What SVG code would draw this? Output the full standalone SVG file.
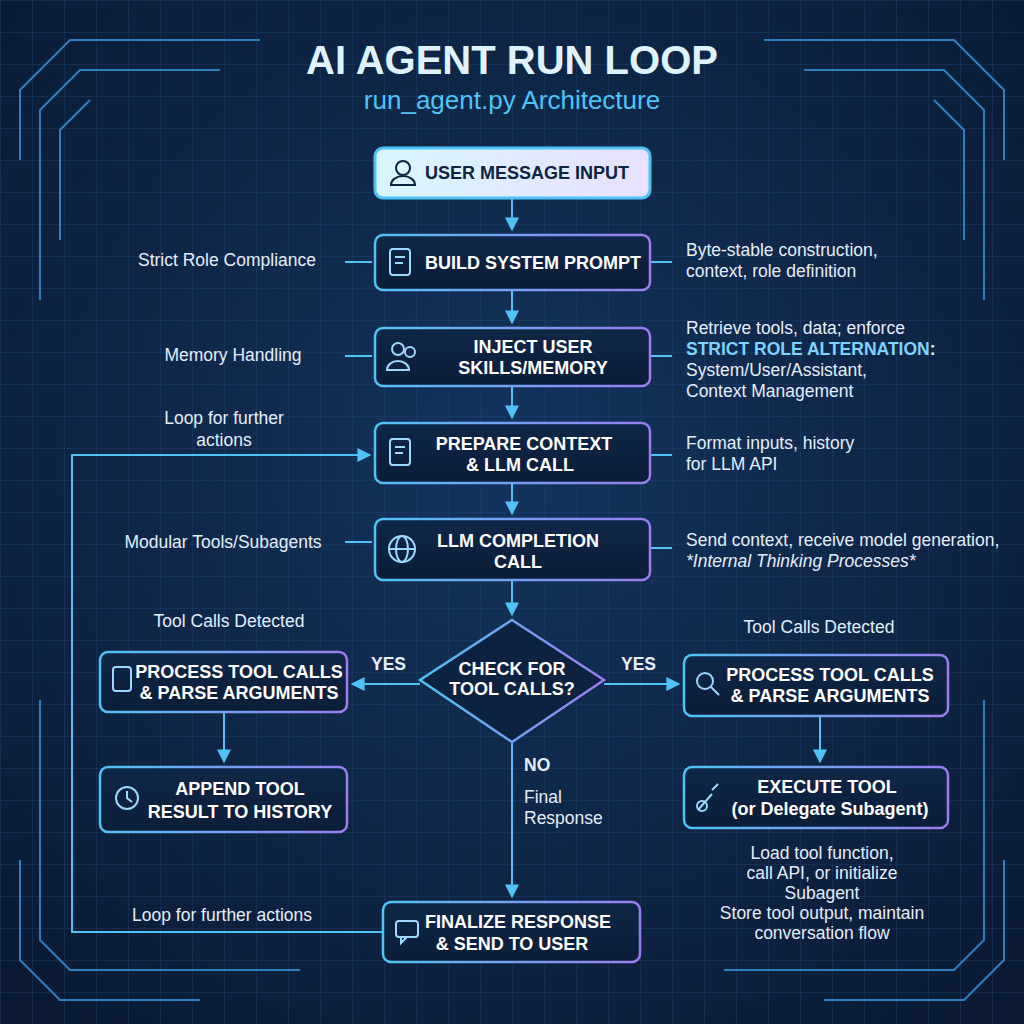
<svg xmlns="http://www.w3.org/2000/svg" width="1024" height="1024" viewBox="0 0 1024 1024">
<defs>
<pattern id="grid" width="32" height="32" patternUnits="userSpaceOnUse"><path d="M32 0H0V32" fill="none" stroke="#1f4270" stroke-width="0.8"/></pattern>
<radialGradient id="bg" cx="50%" cy="45%" r="70%"><stop offset="0" stop-color="#14345e"/><stop offset="1" stop-color="#0a1a33"/></radialGradient>
<linearGradient id="nodeFill" x1="0" y1="0" x2="0" y2="1"><stop offset="0" stop-color="#0f2747"/><stop offset="1" stop-color="#0b1d38"/></linearGradient>
<linearGradient id="nodeStroke" x1="0" y1="0" x2="1" y2="0"><stop offset="0" stop-color="#4fc3f7"/><stop offset="1" stop-color="#9a7cf0"/></linearGradient>
<linearGradient id="topFill" x1="0" y1="0" x2="1" y2="0"><stop offset="0" stop-color="#d8f7ff"/><stop offset="1" stop-color="#e8e0ff"/></linearGradient>
<marker id="arr" viewBox="0 0 10 10" refX="9" refY="5" markerWidth="7" markerHeight="7" orient="auto"><path d="M0 0L10 5L0 10z" fill="#4fc3f7"/></marker>
</defs>
<style>
.node{fill:url(#nodeFill);stroke:url(#nodeStroke);stroke-width:2.5}
.t{font-family:"Liberation Sans",Arial,sans-serif;font-weight:bold;font-size:18px;fill:#ffffff;text-anchor:middle}
.s{font-family:"Liberation Sans",Arial,sans-serif;font-size:17.5px;fill:#e4eefa}
.c{fill:none;stroke:#4fc3f7;stroke-width:2}
.deco{fill:none;stroke:#2f7fc0;stroke-width:2}
.ic{fill:none;stroke:#9fd8ff;stroke-width:2}
</style>
<rect width="1024" height="1024" fill="url(#bg)"/>
<rect width="1024" height="1024" fill="url(#grid)"/>
<g id="decor" class="deco">
<path d="M20 160V90L70 40H260"/><path d="M40 300V110L80 70H220"/><path d="M60 240V130L90 100"/>
<path d="M1004 160V90L954 40H764"/><path d="M984 300V110L944 70H804"/><path d="M964 240V130L934 100"/>
<path d="M20 860V960L60 1000H200"/><path d="M40 700V940L70 970H300"/>
<path d="M1004 860V960L964 1000H824"/><path d="M984 700V940L954 970H724"/>
</g>
<text x="512" y="74" text-anchor="middle" font-family="Liberation Sans,Arial,sans-serif" font-weight="bold" font-size="40" fill="#dff3ff">AI AGENT RUN LOOP</text>
<text x="512" y="109" text-anchor="middle" font-family="Liberation Sans,Arial,sans-serif" font-size="26" fill="#4fc3f7">run_agent.py Architecture</text>
<g id="connectors">
<path class="c" d="M512 198V230" marker-end="url(#arr)"/>
<path class="c" d="M512 290V323" marker-end="url(#arr)"/>
<path class="c" d="M512 386V418" marker-end="url(#arr)"/>
<path class="c" d="M512 483V514" marker-end="url(#arr)"/>
<path class="c" d="M512 580V615" marker-end="url(#arr)"/>
<path class="c" d="M420 684H352" marker-end="url(#arr)"/>
<path class="c" d="M604 684H679" marker-end="url(#arr)"/>
<path class="c" d="M224 712V762" marker-end="url(#arr)"/>
<path class="c" d="M820 716V762" marker-end="url(#arr)"/>
<path class="c" d="M512 742V897" marker-end="url(#arr)"/>
<path class="c" d="M383 932H72V455H370" marker-end="url(#arr)"/>
<path class="c" d="M345 262H372M650 262H672M345 356H372M650 356H672M650 455H672M345 542H372M650 548H672" stroke-width="1.5"/>
</g>
<g id="n1"><rect x="375" y="148" width="275" height="50" rx="8" fill="url(#topFill)" stroke="#4fc3f7" stroke-width="3"/>
<circle cx="403" cy="168" r="7" fill="none" stroke="#0d2340" stroke-width="2"/><path d="M391 185a12 9 0 0 1 24 0z" fill="none" stroke="#0d2340" stroke-width="2"/>
<text x="527" y="179" class="t" style="fill:#0d2340">USER MESSAGE INPUT</text></g>
<g id="n2"><rect class="node" x="375" y="235" width="275" height="55" rx="8"/>
<rect class="ic" x="390" y="249" width="20" height="26" rx="3"/><path class="ic" d="M395 257h10M395 263h8"/>
<text x="533" y="269" class="t">BUILD SYSTEM PROMPT</text></g>
<g id="n3"><rect class="node" x="375" y="328" width="275" height="58" rx="8"/>
<circle class="ic" cx="398" cy="349" r="6"/><path class="ic" d="M387 370a11 9 0 0 1 22 0z"/><circle class="ic" cx="410" cy="352" r="5"/>
<text x="533" y="353" class="t">INJECT USER</text><text x="533" y="374" class="t">SKILLS/MEMORY</text></g>
<g id="n4"><rect class="node" x="375" y="423" width="275" height="60" rx="8"/>
<rect class="ic" x="390" y="439" width="20" height="26" rx="3"/><path class="ic" d="M395 447h10M395 453h8"/>
<text x="524" y="450" class="t">PREPARE CONTEXT</text><text x="520" y="471" class="t">&amp; LLM CALL</text></g>
<g id="n5"><rect class="node" x="375" y="519" width="275" height="61" rx="8"/>
<circle class="ic" cx="402" cy="549" r="13"/><ellipse class="ic" cx="402" cy="549" rx="6" ry="13"/><path class="ic" d="M389 549h26"/>
<text x="518" y="547" class="t">LLM COMPLETION</text><text x="518" y="568" class="t">CALL</text></g>
<g id="decision"><path d="M512 620L604 680L512 742L420 680Z" fill="#0d2240" stroke="url(#nodeStroke)" stroke-width="2.5"/>
<text x="512" y="675" class="t">CHECK FOR</text><text x="512" y="695" class="t">TOOL CALLS?</text></g>
<g id="pl"><rect class="node" x="100" y="652" width="247" height="60" rx="8"/>
<rect class="ic" x="113" y="667" width="18" height="24" rx="3"/>
<text x="239" y="678" class="t">PROCESS TOOL CALLS</text><text x="239" y="699" class="t">&amp; PARSE ARGUMENTS</text></g>
<g id="al"><rect class="node" x="100" y="767" width="247" height="65" rx="8"/>
<circle class="ic" cx="127" cy="798" r="11"/><path class="ic" d="M127 791v7l5 4"/>
<text x="240" y="795" class="t">APPEND TOOL</text><text x="240" y="818" class="t">RESULT TO HISTORY</text></g>
<g id="pr"><rect class="node" x="684" y="655" width="264" height="61" rx="8"/>
<circle class="ic" cx="705" cy="681" r="8"/><path class="ic" d="M711 687l8 8"/>
<text x="830" y="681" class="t">PROCESS TOOL CALLS</text><text x="830" y="702" class="t">&amp; PARSE ARGUMENTS</text></g>
<g id="ex"><rect class="node" x="684" y="767" width="264" height="61" rx="8"/>
<path class="ic" d="M698 810l14-16M712 790l6-6"/><circle class="ic" cx="702" cy="806" r="5"/>
<text x="827" y="793" class="t">EXECUTE TOOL</text><text x="830" y="815" class="t">(or Delegate Subagent)</text></g>
<g id="fin"><rect class="node" x="383" y="902" width="257" height="60" rx="8"/>
<rect class="ic" x="396" y="921" width="22" height="16" rx="3"/><path class="ic" d="M401 937v6l6-6"/>
<text x="518" y="928" class="t">FINALIZE RESPONSE</text><text x="512" y="950" class="t">&amp; SEND TO USER</text></g>
<g id="labels" class="s">
<text x="227" y="266" text-anchor="middle">Strict Role Compliance</text>
<text x="233" y="361" text-anchor="middle">Memory Handling</text>
<text x="224" y="424" text-anchor="middle">Loop for further</text><text x="224" y="446" text-anchor="middle">actions</text>
<text x="223" y="548" text-anchor="middle">Modular Tools/Subagents</text>
<text x="229" y="627" text-anchor="middle">Tool Calls Detected</text>
<text x="819" y="633" text-anchor="middle">Tool Calls Detected</text>
<text x="222" y="921" text-anchor="middle">Loop for further actions</text>
<text x="686" y="256">Byte-stable construction,</text><text x="686" y="277">context, role definition</text>
<text x="686" y="334">Retrieve tools, data; enforce</text>
<text x="686" y="355" font-weight="bold" fill="#7fd3ff">STRICT ROLE ALTERNATION<tspan fill="#e4eefa">:</tspan></text>
<text x="686" y="376">System/User/Assistant,</text><text x="686" y="397">Context Management</text>
<text x="686" y="449">Format inputs, history</text><text x="686" y="470">for LLM API</text>
<text x="686" y="546">Send context, receive model generation,</text>
<text x="686" y="567" font-style="italic">*Internal Thinking Processes*</text>
<text x="371" y="670" font-weight="bold">YES</text><text x="621" y="670" font-weight="bold">YES</text>
<text x="524" y="771" font-weight="bold">NO</text>
<text x="524" y="803">Final</text><text x="524" y="824">Response</text>
<g text-anchor="middle"><text x="822" y="859">Load tool function,</text><text x="822" y="879">call API, or initialize</text><text x="822" y="899">Subagent</text><text x="822" y="919">Store tool output, maintain</text><text x="822" y="939">conversation flow</text></g>
</g>
</svg>
